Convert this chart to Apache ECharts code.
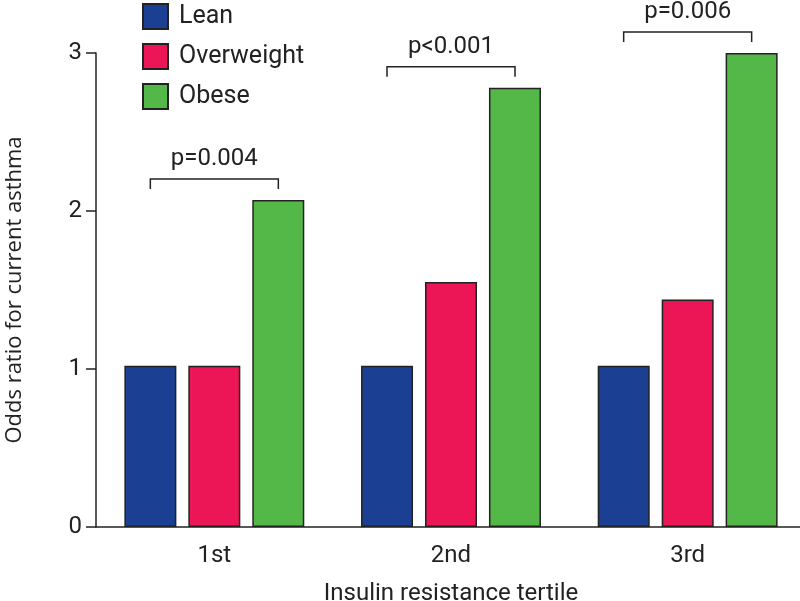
<!DOCTYPE html>
<html>
<head>
<meta charset="utf-8">
<script src="https://cdn.jsdelivr.net/npm/echarts@6/dist/echarts.min.js"></script>
<style>html,body{margin:0;padding:0;background:#fff}#c{width:800px;height:601px}</style>
</head>
<body>
<div id="c"></div>
<script>
const categories = ['1st', '2nd', '3rd'];
const lean = [1.02, 1.02, 1.02];
const overweight = [1.02, 1.55, 1.44];
const obese = [2.07, 2.78, 3.0];
const pLabels = ['p=0.004', 'p<0.001', 'p=0.006'];
const yTicks = [0, 1, 2, 3];

const chart = echarts.init(document.getElementById('c'), null, {renderer: 'canvas'});
const dark = '#222';
const font = 'Roboto';
const barStyle = c => ({color: c, borderColor: dark, borderWidth: 1.5});

const bracketData = categories.map((c, i) => [i, obese[i], pLabels[i]]);

chart.setOption({
  animation: false,
  backgroundColor: '#fff',
  grid: {left: 96, right: -6, top: 53, bottom: 74, containLabel: false, outerBoundsMode: 'none'},
  legend: {
    orient: 'vertical', left: 137, top: -2,
    itemWidth: 25, itemHeight: 25, itemGap: 13,
    icon: 'rect',
    data: ['Lean', 'Overweight', 'Obese'],
    textStyle: {fontFamily: font, fontSize: 25, lineHeight: 25, color: dark, padding: [0, 0, 0, 6]}
  },
  xAxis: {
    type: 'category', data: categories,
    axisLine: {lineStyle: {color: dark, width: 1.5}},
    axisTick: {alignWithLabel: true, length: 8, lineStyle: {color: dark, width: 1.5}},
    axisLabel: {fontFamily: font, fontSize: 24, color: dark, margin: 17},
    name: 'Insulin resistance tertile', nameLocation: 'middle', nameGap: 55,
    nameTextStyle: {fontFamily: font, fontSize: 24, color: dark}
  },
  yAxis: {
    type: 'value', min: yTicks[0], max: yTicks[yTicks.length - 1], interval: 1,
    splitLine: {show: false},
    axisLine: {show: true, lineStyle: {color: dark, width: 1.5}},
    axisTick: {show: true, length: 10, lineStyle: {color: dark, width: 1.5}},
    axisLabel: {fontFamily: font, fontSize: 24, color: dark, margin: 14},
    name: 'Odds ratio for current asthma', nameLocation: 'middle', nameGap: 70,
    nameTextStyle: {fontFamily: 'Open Sans', fontSize: 22, color: dark}
  },
  series: [
    {name: 'Lean', type: 'bar', data: lean, barWidth: 52, barGap: '23%', itemStyle: barStyle('#1b3f93')},
    {name: 'Overweight', type: 'bar', data: overweight, barWidth: 52, barGap: '23%', itemStyle: barStyle('#ec1556')},
    {name: 'Obese', type: 'bar', data: obese, barWidth: 52, barGap: '23%', itemStyle: barStyle('#54b848')},
    {
      type: 'custom', clip: false, z: 10, silent: true,
      data: bracketData,
      encode: {x: 0, y: 1},
      renderItem: function (params, api) {
        const p = api.coord([api.value(0), api.value(1)]);
        const y = p[1] - 21;
        const half = 64;
        return {
          type: 'group',
          children: [
            {type: 'polyline', shape: {points: [[p[0] - half, y + 10], [p[0] - half, y], [p[0] + half, y], [p[0] + half, y + 10]]},
             style: {stroke: dark, lineWidth: 1.5, fill: null}},
            {type: 'text', style: {text: bracketData[params.dataIndex][2], x: p[0], y: y - 8,
              textAlign: 'center', textVerticalAlign: 'bottom', font: '24px Roboto', fill: dark}}
          ]
        };
      }
    }
  ]
});
</script>
</body>
</html>
